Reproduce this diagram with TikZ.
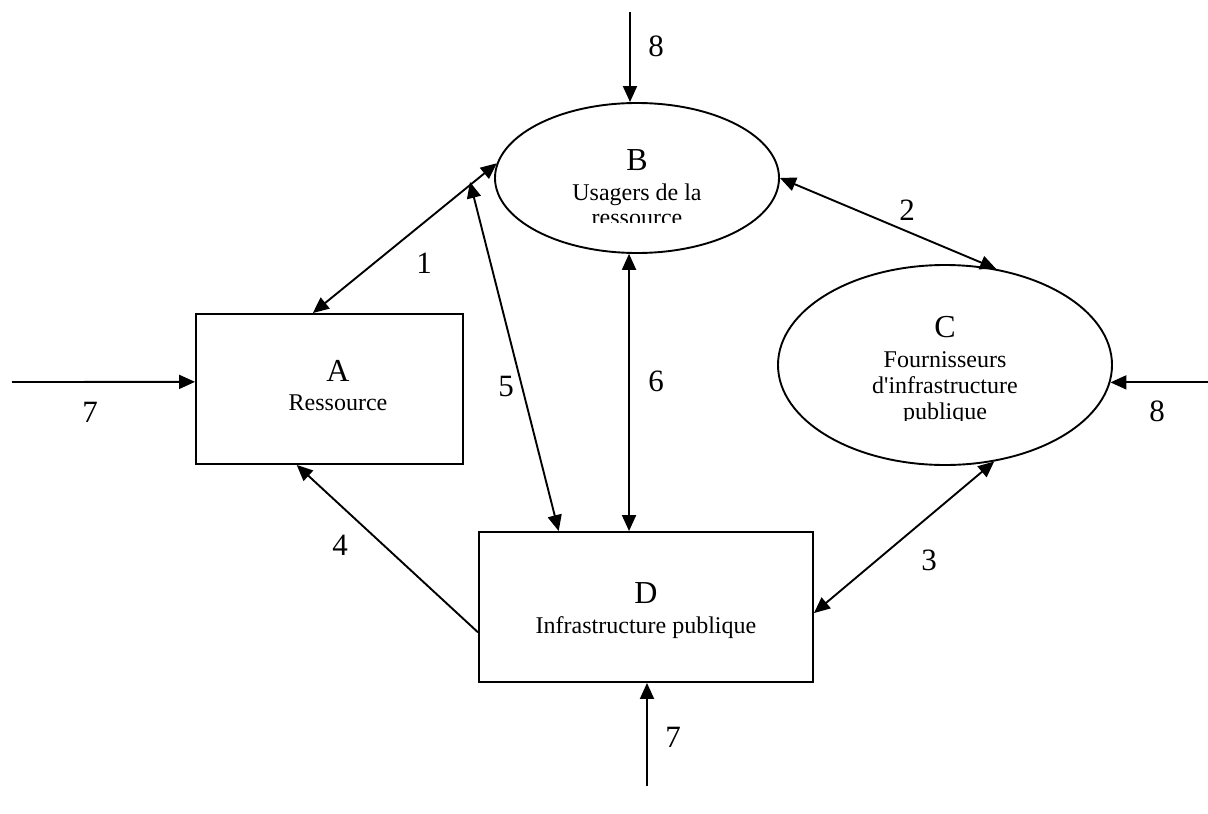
\documentclass[tikz,border=0pt]{standalone}
\usepackage{fontspec}
\setmainfont{Liberation Serif}
\usetikzlibrary{shapes.geometric,arrows.meta,calc}
\begin{document}
\begin{tikzpicture}[x=1pt,y=-1pt,
  line width=1.9pt,
  tip/.style={-{Triangle[length=16pt,width=14pt]}},
  dtip/.style={{Triangle[length=16pt,width=14pt]}-{Triangle[length=16pt,width=14pt]}},
  oval/.style={ellipse,draw,inner sep=0pt},
  boxnode/.style={rectangle,draw,inner sep=0pt},
  letter/.style={anchor=base,font=\fontsize{32}{36}\selectfont,inner sep=0pt},
  body/.style={anchor=base,font=\fontsize{24}{28}\selectfont,inner sep=0pt},
  num/.style={anchor=base,font=\fontsize{31}{36}\selectfont,inner sep=0pt}]
\useasboundingbox (0,0) rectangle (1208,814);
% shapes
\node[oval,minimum width=284pt,minimum height=150pt] (B) at (637,178) {};
\node[oval,minimum width=334pt,minimum height=200pt] (C) at (945,365) {};
\node[boxnode,minimum width=267pt,minimum height=150pt] (A) at (329.5,389) {};
\node[boxnode,minimum width=334pt,minimum height=150pt] (D) at (646,607) {};
% texts
\node[letter] (Bl) at (637,170) {B};
\node[body] (Bt1) at (637,200) {Usagers de la};
\begin{scope}
\clip (490,100) rectangle (790,222);
\node[body] (Bt2) at (637,225) {ressource};
\end{scope}
\node[letter] (Cl) at (945,337) {C};
\node[body] (Ct1) at (945,367) {Fournisseurs};
\node[body] (Ct2) at (945,393) {d\textquotesingle infrastructure};
\begin{scope}
\clip (780,300) rectangle (1110,420);
\node[body] (Ct3) at (945,419) {publique};
\end{scope}
\node[letter] (Al) at (338,381) {A};
\node[body] (At) at (338,410) {Ressource};
\node[letter] (Dl) at (646,603) {D};
\node[body] (Dt) at (646,633) {Infrastructure publique};
% free ends
\coordinate (t8) at (630,12);
\coordinate (l7) at (12,382);
\coordinate (r8) at (1208,382);
\coordinate (b7) at (647,786);
\coordinate (p5) at (470,182);
% connectors
\draw[tip] (t8) -- (t8 |- B.north);
\draw[tip] (l7) -- ($(A.north west)!0.453!(A.south west)$);
\draw[tip] (C.-6 -| r8) -- (C.-6);
\draw[tip] (b7) -- (b7 |- D.south);
\draw[dtip] ($(A.north west)!0.438!(A.north east)$) -- (B.174);
\draw[dtip] (B.east) -- (C.62);
\draw[dtip] (p5) -- ($(D.north west)!0.24!(D.north east)$);
\draw[dtip] (B.264) -- (B.264 |- D.north);
\draw[dtip] (C.297) -- ($(D.north east)!0.54!(D.south east)$);
\draw[tip] ($(D.north west)!0.667!(D.south west)$) -- ($(A.south west)!0.378!(A.south east)$);
% labels
\node[num] (n8a) at (656,56) {8};
\node[num] (n1) at (424,273) {1};
\node[num] (n2) at (907,220) {2};
\node[num] (n5) at (506,396) {5};
\node[num] (n6) at (656,391) {6};
\node[num] (n7a) at (90,422) {7};
\node[num] (n8b) at (1157,421) {8};
\node[num] (n4) at (340,555) {4};
\node[num] (n3) at (929,570) {3};
\node[num] (n7b) at (673,747) {7};
\end{tikzpicture}
\end{document}
